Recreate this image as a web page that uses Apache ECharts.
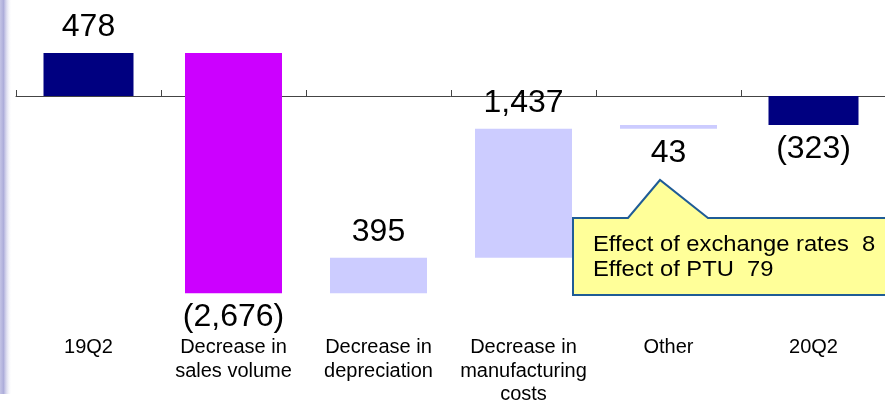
<!DOCTYPE html>
<html>
<head>
<meta charset="utf-8">
<script src="https://cdn.jsdelivr.net/npm/echarts@6/dist/echarts.min.js"></script>
<style>
  html, body { margin: 0; padding: 0; background: #ffffff; }
  #chart { width: 885px; height: 402px; }
</style>
</head>
<body>
<div id="chart"></div>
<script>
// Operating income bridge, 19Q2 -> 20Q2
const categories = ['19Q2', 'Decrease in\nsales volume', 'Decrease in\ndepreciation',
  'Decrease in\nmanufacturing\ncosts', 'Other', '20Q2'];
const changes = [478, -2676, 395, 1437, 43, -323];
const isTotal = [true, false, false, false, false, true];
const valueLabels = ['478', '(2,676)', '395', '1,437', '43', '(323)'];
const noteLines = ['Effect of exchange rates  8', 'Effect of PTU  79'];

// Presentation settings
const barColors = ['#000080', '#CC00FF', '#CCCCFF', '#CCCCFF', '#CCCCFF', '#000080'];
const labelSide = ['top', 'bottom', 'top', 'top', 'bottom', 'bottom'];
const FONT = "'Liberation Sans', Arial, sans-serif";

// Floating segments: totals start from zero, changes start from the running total
let running = 0;
const segments = changes.map((v, i) => {
  let lo, hi;
  if (isTotal[i]) {
    lo = Math.min(0, v); hi = Math.max(0, v);
    running = v;
  } else {
    const next = running + v;
    lo = Math.min(running, next); hi = Math.max(running, next);
    running = next;
  }
  return [i, lo, hi];
});

const chart = echarts.init(document.getElementById('chart'), null, { renderer: 'canvas' });

const pxPerUnit = 0.0897;
const zeroY = 96;
const yMax = 1000, yMin = -3000;
const gridTop = zeroY - yMax * pxPerUnit;
const gridHeight = (yMax - yMin) * pxPerUnit;

chart.setOption({
  animation: false,
  backgroundColor: '#ffffff',
  grid: {
    left: 16, width: 870, top: gridTop, height: gridHeight,
    containLabel: false, outerBoundsMode: 'none'
  },
  xAxis: [{
    type: 'category',
    data: categories,
    axisLine: { onZero: true, lineStyle: { color: '#444444', width: 1 } },
    axisTick: { show: true, inside: true, length: 6, lineStyle: { color: '#444444' } },
    axisLabel: { show: false },
    splitLine: { show: false }
  }, {
    type: 'category',
    data: categories,
    position: 'bottom',
    offset: -29,
    axisLine: { show: false },
    axisTick: { show: false },
    axisLabel: {
      show: true, interval: 0, margin: 0, color: '#000000',
      fontFamily: FONT, fontSize: 20, lineHeight: 23.3, verticalAlign: 'top'
    }
  }],
  yAxis: {
    type: 'value', min: yMin, max: yMax, show: false,
    splitLine: { show: false }
  },
  series: [{
    type: 'custom',
    xAxisIndex: 0,
    data: segments,
    renderItem: function (params, api) {
      const i = api.value(0);
      const lo = api.value(1), hi = api.value(2);
      const pTop = api.coord([i, hi]);
      const pBot = api.coord([i, lo]);
      const w = isTotal[i] ? 90 : 97;
      const ly = labelSide[i] === 'top' ? pTop[1] - 25.5 : pBot[1] + 24;
      return {
        type: 'group',
        children: [{
          type: 'rect',
          shape: { x: pTop[0] - w / 2, y: pTop[1], width: w, height: Math.max(pBot[1] - pTop[1], 1) },
          style: { fill: barColors[i] }
        }, {
          type: 'text',
          style: {
            text: valueLabels[i], x: pTop[0], y: ly,
            align: 'center', verticalAlign: 'middle',
            fill: '#000000', fontSize: 32, fontFamily: FONT
          }
        }]
      };
    }
  }],
  graphic: [{
    type: 'rect',
    shape: { x: 0, y: 0, width: 12, height: 394 },
    style: {
      fill: new echarts.graphic.LinearGradient(0, 0, 1, 0, [
        { offset: 0, color: '#C4C4E6' },
        { offset: 0.3, color: '#ADADDA' },
        { offset: 1, color: 'rgba(255,255,255,0)' }
      ])
    },
    z: 0
  }, {
    type: 'polygon',
    shape: {
      points: [[573, 218], [628, 218], [660, 180], [708, 218], [890, 218], [890, 295], [573, 295]]
    },
    style: { fill: '#FFFF99', stroke: '#1F5C96', lineWidth: 2 },
    z: 10
  }, {
    type: 'text',
    x: 593, y: 232,
    scaleX: 1.08,
    style: {
      text: noteLines.join('\n'), x: 0, y: 0,
      fill: '#000000', fontSize: 22, fontFamily: FONT, lineHeight: 25
    },
    z: 11
  }]
});
</script>
</body>
</html>
